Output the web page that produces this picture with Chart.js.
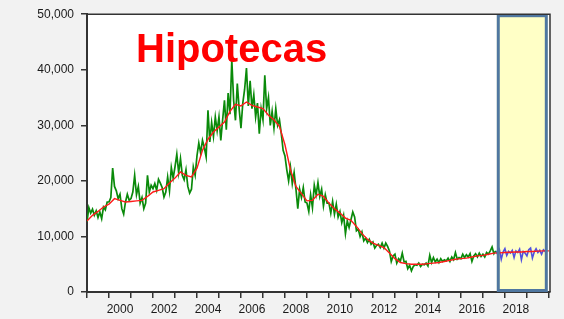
<!DOCTYPE html>
<html>
<head>
<meta charset="utf-8">
<script src="https://cdn.jsdelivr.net/npm/chart.js@4.4.1/dist/chart.umd.min.js"></script>
<style>
  html, body { margin: 0; padding: 0; background: #f2f2f2; }
</style>
</head>
<body>
<canvas id="hipotecasChart" width="564" height="319"></canvas>
<script>
// values in thousands, monthly from 1999M01
var hipotecasReal = [
  12.6, 15.2, 14.2, 14.9, 13.8, 14.6, 13.4, 14.4, 13.2, 15.3, 14.8, 16.2, // 1999
  16.2, 17.0, 22.3, 19.0, 18.2, 16.8, 17.6, 15.0, 14.0, 16.2, 17.6, 16.5, // 2000
  16.8, 18.0, 21.0, 17.5, 19.0, 16.0, 17.0, 15.0, 16.0, 21.0, 18.0, 19.2, // 2001
  18.6, 19.5, 18.3, 20.3, 19.6, 18.8, 17.1, 18.0, 20.7, 18.2, 22.4, 20.5, // 2002
  22.5, 24.8, 21.5, 24.0, 21.0, 20.2, 22.0, 19.0, 17.8, 18.5, 22.5, 21.0, // 2003
  24.5, 26.8, 25.0, 27.3, 26.0, 24.3, 32.7, 27.0, 30.5, 28.0, 31.5, 29.0, // 2004
  31.5, 27.3, 31.0, 34.5, 29.2, 35.8, 32.0, 41.8, 34.5, 30.9, 37.5, 33.0, // 2005
  29.5, 34.0, 36.5, 40.3, 33.5, 38.0, 33.0, 35.5, 31.5, 34.0, 28.5, 33.0, // 2006
  31.0, 39.0, 33.0, 35.0, 30.0, 32.5, 29.5, 33.0, 30.0, 31.0, 28.5, 25.5, // 2007
  24.5, 22.0, 20.0, 22.5, 19.5, 21.5, 18.5, 15.0, 18.5, 17.0, 18.8, 16.2, // 2008
  16.0, 14.5, 17.5, 15.2, 19.2, 17.5, 19.7, 17.2, 18.5, 15.5, 17.5, 16.0, // 2009
  16.0, 14.2, 16.3, 14.0, 15.8, 13.5, 14.5, 12.5, 13.8, 10.5, 12.8, 11.6, // 2010
  13.0, 14.4, 13.5, 11.0, 11.3, 10.0, 10.8, 9.2, 9.7, 8.9, 9.5, 8.6,      // 2011
  9.0, 7.9, 8.4, 8.6, 8.0, 8.8, 7.9, 8.8, 8.2, 7.4, 5.5, 6.5,             // 2012
  6.8, 5.2, 6.0, 5.6, 7.0, 5.4, 5.5, 4.2, 4.8, 3.8, 4.6, 4.9,             // 2013
  4.8, 5.2, 4.6, 5.0, 4.9, 5.2, 4.7, 6.6, 5.3, 6.2, 5.4, 5.9,             // 2014
  5.3, 6.0, 5.5, 5.8, 5.6, 6.1, 5.5, 6.3, 5.8, 7.1, 5.9, 6.2,             // 2015
  6.0, 6.8, 6.2, 6.7, 6.3, 6.9, 5.5, 6.5, 6.9, 6.3, 7.0, 6.4,             // 2016
  6.8, 6.3, 7.1, 6.8, 7.4, 8.1, 6.9, 7.4                                  // 2017
];

// forecast, monthly from 2017M08 to 2019M12
var hipotecasPronostico = [
  7.4, 6.8, 7.6, 5.9, 7.2, 7.8, 6.6, 7.3, 7.0, 7.5, 6.2, 7.4, 7.1, 7.7, 5.8,
  7.3, 7.0, 6.5, 7.6, 7.9, 6.1, 7.2, 7.8, 7.1, 7.5, 6.8, 7.6, 7.3, 7.2
];

// trend, quarterly from 1999Q1 to 2020
var hipotecasTendencia = [
  12.8, 13.8, 14.5, 15.3,  15.8, 16.8, 16.5, 16.2,  16.3, 16.4, 16.5, 17.2,
  18.0, 18.3, 18.6, 19.6,  20.5, 21.6, 21.0, 20.7,  22.3, 25.5, 27.5, 28.8,
  29.7, 30.6, 32.5, 33.8,  33.5, 34.2, 33.6, 33.3,  33.0, 31.8, 31.0, 29.8,
  26.5, 22.0, 19.0, 17.7,  16.4, 16.5, 17.6, 17.2,  16.0, 15.0, 14.2, 13.3,
  12.9, 11.8, 10.5, 9.5,   8.8, 8.4, 8.0, 7.0,     6.0, 5.3, 5.1, 5.0,
  5.0, 5.0, 5.1, 5.2,      5.3, 5.5, 5.7, 5.9,     6.0, 6.1, 6.3, 6.5,
  6.6, 6.8, 7.0, 7.05,     7.1, 7.15, 7.2, 7.2,    7.3, 7.3, 7.35, 7.4,
  7.4
];

var realStart = 1999;          // 1999M01
var pronosticoStart = 2017 + 7 / 12; // 2017M08
var tendenciaStart = 1999;
var forecastRange = [2017.63, 2019.95];
var yTicks = [0, 10, 20, 30, 40, 50];

function monthly(values, start) {
  return values.map(function (v, i) { return { x: start + i / 12, y: v }; });
}
function quarterly(values, start) {
  return values.map(function (v, i) { return { x: start + i / 4, y: v }; });
}

var framePlugin = {
  id: "frame",
  beforeDraw: function (chart) {
    var c = chart.ctx, a = chart.chartArea, xs = chart.scales.x;
    c.save();
    c.fillStyle = "#f2f2f2";
    c.fillRect(0, 0, chart.width, chart.height);
    c.fillStyle = "#ffffff";
    c.fillRect(a.left, a.top, a.right - a.left, a.bottom - a.top);
    var x1 = xs.getPixelForValue(forecastRange[0]);
    var x2 = xs.getPixelForValue(forecastRange[1]);
    c.fillStyle = "#ffffc6";
    c.fillRect(x1, a.top, x2 - x1, a.bottom - a.top);
    c.restore();
  },
  afterDatasetsDraw: function (chart) {
    var c = chart.ctx, a = chart.chartArea, xs = chart.scales.x;
    c.save();
    var x1 = xs.getPixelForValue(forecastRange[0]);
    var x2 = xs.getPixelForValue(forecastRange[1]);
    c.strokeStyle = "#4f77a0";
    c.lineWidth = 3;
    c.strokeRect(x1 + 1.5, a.top + 1.5, x2 - x1 - 3, a.bottom - a.top - 3);
    // top and right edges of the frame
    c.strokeStyle = "#333333";
    c.lineWidth = 1.5;
    c.beginPath();
    c.moveTo(a.left, a.top);
    c.lineTo(a.right, a.top);
    c.lineTo(a.right, a.bottom);
    c.stroke();
    c.restore();
  },
  afterDraw: function (chart) {
    var c = chart.ctx;
    c.save();
    c.font = "bold 40px 'Liberation Sans', Arial, sans-serif";
    c.fillStyle = "#ff0000";
    c.textBaseline = "alphabetic";
    c.fillText("Hipotecas", 136, 62);
    c.restore();
  }
};

var ctx = document.getElementById("hipotecasChart").getContext("2d");
var hipotecasChart = new Chart(ctx, {
  type: "line",
  data: {
    datasets: [
      {
        label: "Tendencia",
        data: quarterly(hipotecasTendencia, tendenciaStart),
        borderColor: "#ff1a1a",
        borderWidth: 1.4,
        pointRadius: 0,
      },
      {
        label: "Hipotecas",
        data: monthly(hipotecasReal, realStart),
        borderColor: "#0a8a0a",
        borderWidth: 1.7,
        pointRadius: 0,
      },
      {
        label: "Pronostico",
        data: monthly(hipotecasPronostico, pronosticoStart),
        borderColor: "#5050e0",
        borderWidth: 1.6,
        pointRadius: 0,
      },
    ],
  },
  options: {
    responsive: false,
    animation: false,
    layout: { padding: { left: 0, right: 14, top: 14, bottom: 0 } },
    plugins: {
      legend: { display: false },
      tooltip: { enabled: false },
    },
    scales: {
      x: {
        type: "linear",
        min: 1999,
        max: 2020.05,
        afterBuildTicks: function (scale) {
          var t = [];
          for (var v = 1999; v <= 2020; v += 0.5) t.push({ value: v });
          scale.ticks = t;
        },
        afterFit: function (scale) { scale.height = 27; },
        border: { display: true, color: "#333333", width: 2 },
        grid: {
          drawOnChartArea: false,
          drawTicks: true,
          tickLength: 6,
          lineWidth: 1.5,
          color: function (c) {
            return c.tick && c.tick.value % 1 === 0 ? "#333333" : "rgba(0,0,0,0)";
          },
        },
        ticks: {
          autoSkip: false,
          maxRotation: 0,
          padding: 4,
          color: "#1a1a1a",
          font: { family: "'Liberation Sans', Arial, sans-serif", size: 12 },
          callback: function (v) {
            var y = Math.floor(v);
            return v - y === 0.5 && y % 2 === 0 ? String(y) : "";
          },
        },
      },
      y: {
        min: 0,
        max: 50,
        afterBuildTicks: function (scale) {
          scale.ticks = yTicks.map(function (v) { return { value: v }; });
        },
        afterFit: function (scale) { scale.width = 87; },
        border: { display: true, color: "#333333", width: 2 },
        grid: {
          drawOnChartArea: false,
          drawTicks: true,
          tickLength: 6,
          lineWidth: 1.5,
          color: "#333333",
        },
        ticks: {
          padding: 7,
          color: "#1a1a1a",
          font: { family: "'Liberation Sans', Arial, sans-serif", size: 12 },
          callback: function (v) {
            return (v * 1000).toLocaleString("en-US");
          },
        },
      },
    },
  },
  plugins: [framePlugin],
});
</script>
</body>
</html>
